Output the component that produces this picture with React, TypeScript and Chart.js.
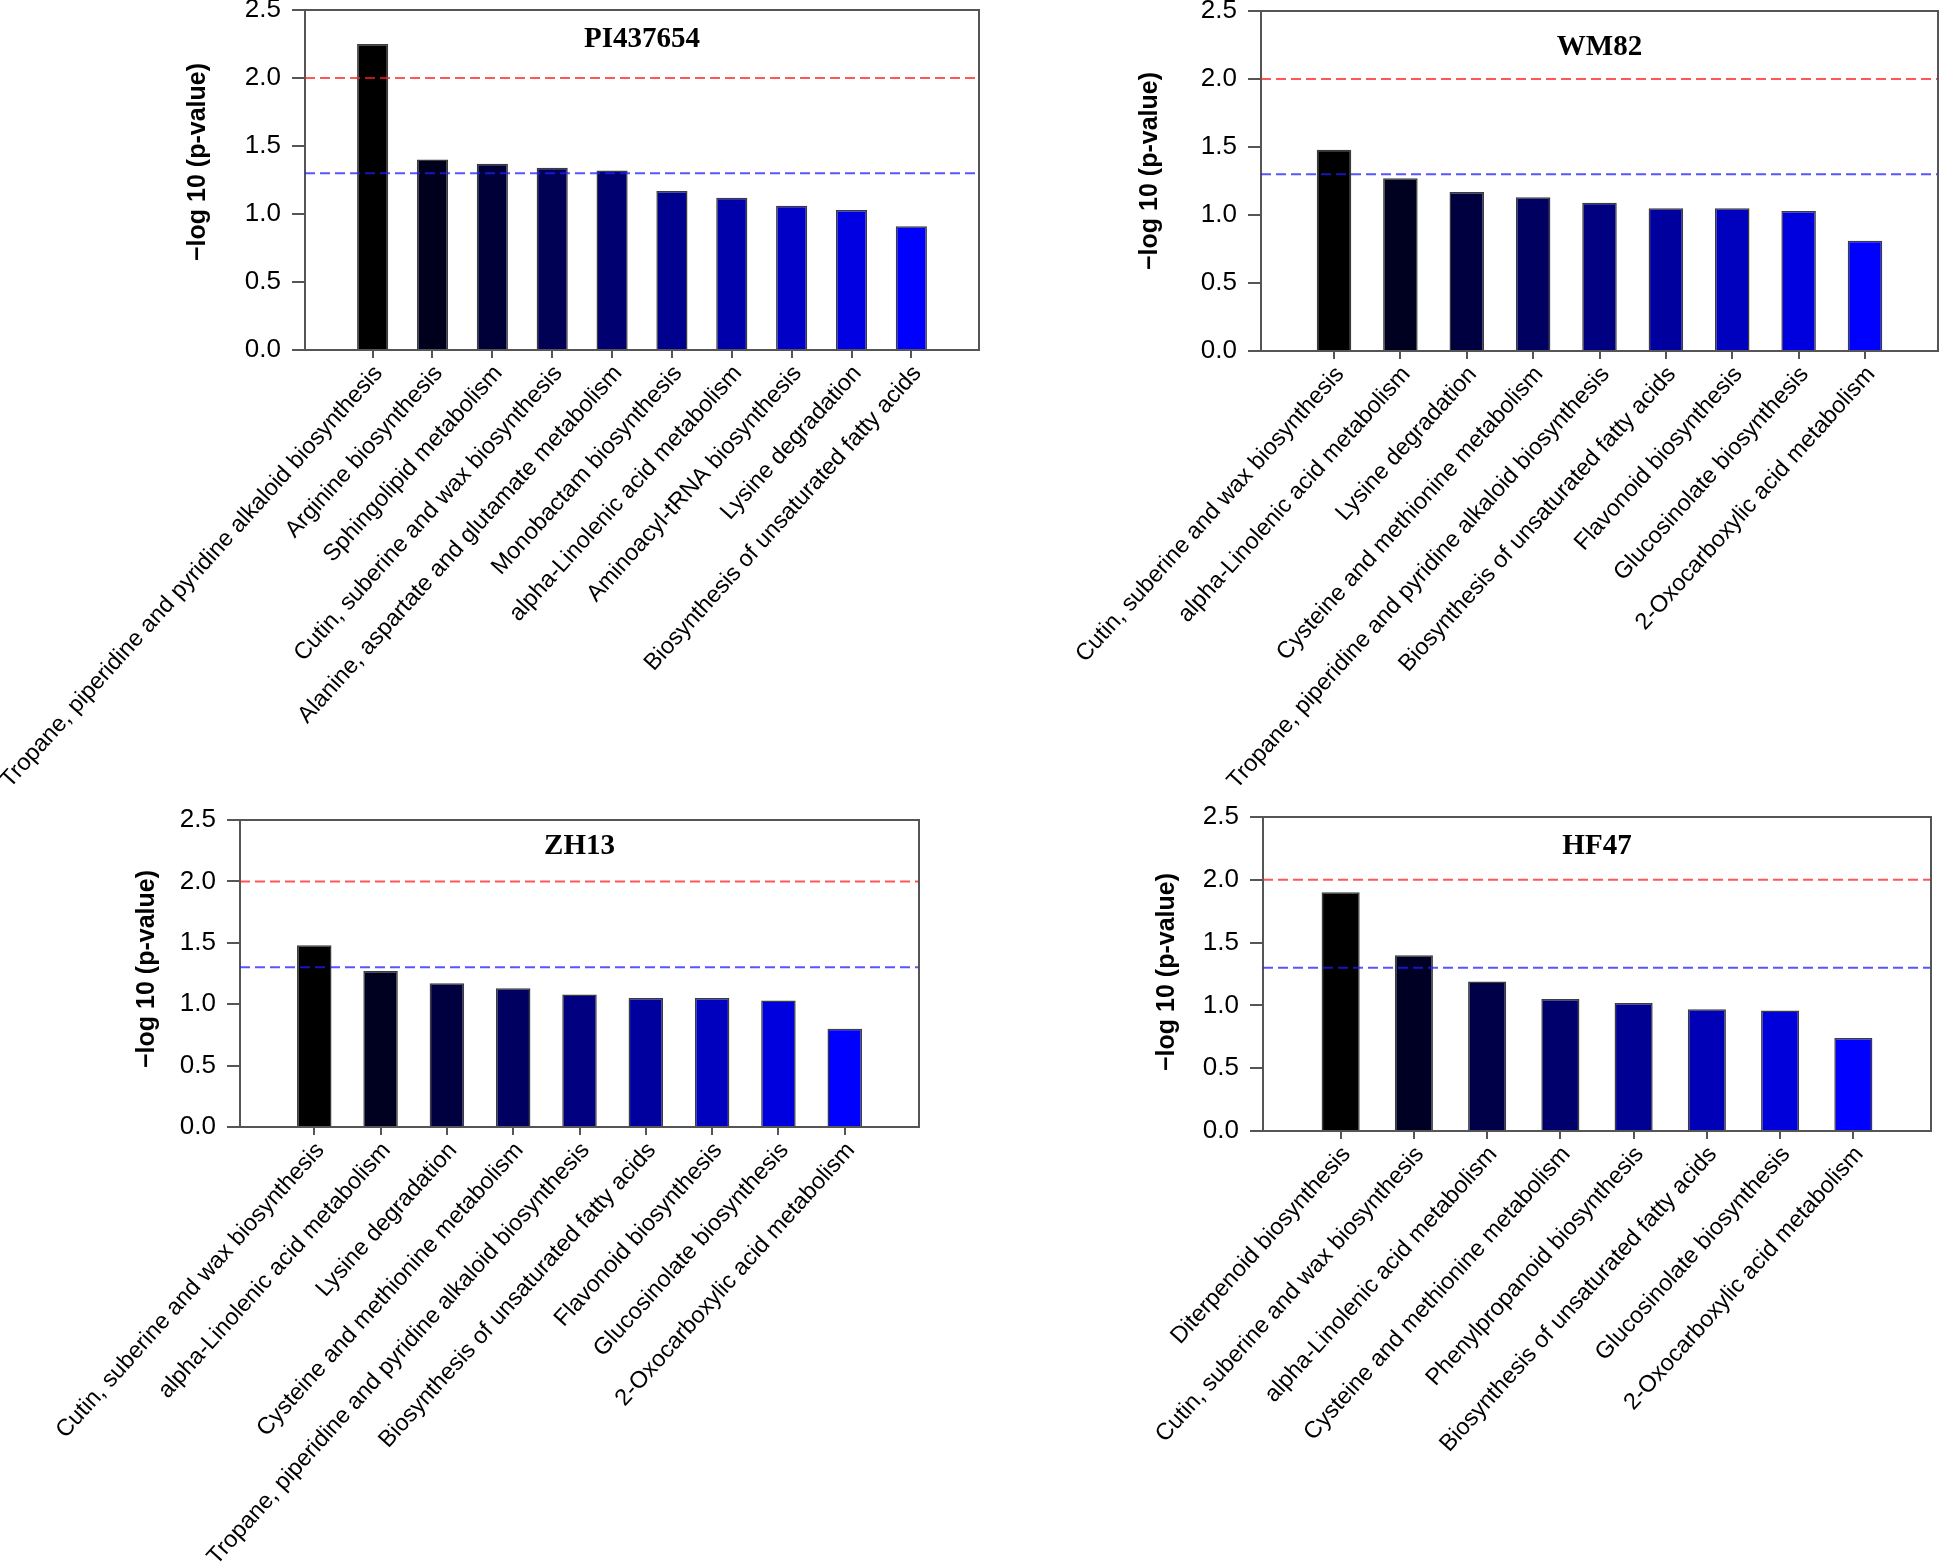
import React, { useEffect, useRef } from 'react';
import { Chart, registerables } from 'chart.js';

Chart.register(...registerables);

// ---------- data ----------
const redThreshold = 2.0;
const blueThreshold = 1.3;
const yMin = 0;
const yMax = 2.5;
const yStep = 0.5;
const yAxisTitle = '\u2212log 10 (p-value)';

const piTitle = 'PI437654';
const piLabels = [
  'Tropane, piperidine and pyridine alkaloid biosynthesis',
  'Arginine biosynthesis',
  'Sphingolipid metabolism',
  'Cutin, suberine and wax biosynthesis',
  'Alanine, aspartate and glutamate metabolism',
  'Monobactam biosynthesis',
  'alpha-Linolenic acid metabolism',
  'Aminoacyl-tRNA biosynthesis',
  'Lysine degradation',
  'Biosynthesis of unsaturated fatty acids',
];
const piValues = [2.25, 1.4, 1.37, 1.34, 1.32, 1.17, 1.12, 1.06, 1.03, 0.91];

const wmTitle = 'WM82';
const wmLabels = [
  'Cutin, suberine and wax biosynthesis',
  'alpha-Linolenic acid metabolism',
  'Lysine degradation',
  'Cysteine and methionine metabolism',
  'Tropane, piperidine and pyridine alkaloid biosynthesis',
  'Biosynthesis of unsaturated fatty acids',
  'Flavonoid biosynthesis',
  'Glucosinolate biosynthesis',
  '2-Oxocarboxylic acid metabolism',
];
const wmValues = [1.48, 1.27, 1.17, 1.13, 1.09, 1.05, 1.05, 1.03, 0.81];

const zhTitle = 'ZH13';
const zhLabels = [
  'Cutin, suberine and wax biosynthesis',
  'alpha-Linolenic acid metabolism',
  'Lysine degradation',
  'Cysteine and methionine metabolism',
  'Tropane, piperidine and pyridine alkaloid biosynthesis',
  'Biosynthesis of unsaturated fatty acids',
  'Flavonoid biosynthesis',
  'Glucosinolate biosynthesis',
  '2-Oxocarboxylic acid metabolism',
];
const zhValues = [1.48, 1.27, 1.17, 1.13, 1.08, 1.05, 1.05, 1.03, 0.8];

const hfTitle = 'HF47';
const hfLabels = [
  'Diterpenoid biosynthesis',
  'Cutin, suberine and wax biosynthesis',
  'alpha-Linolenic acid metabolism',
  'Cysteine and methionine metabolism',
  'Phenylpropanoid biosynthesis',
  'Biosynthesis of unsaturated fatty acids',
  'Glucosinolate biosynthesis',
  '2-Oxocarboxylic acid metabolism',
];
const hfValues = [1.9, 1.4, 1.19, 1.05, 1.02, 0.97, 0.96, 0.74];

// ---------- styles ----------
const colors10 = ['#000000', '#00001c', '#000038', '#000055', '#000071', '#00008e', '#0000aa', '#0000c6', '#0000e3', '#0000ff'];
const colors9 = ['#000000', '#000020', '#000040', '#000060', '#000080', '#00009f', '#0000bf', '#0000df', '#0000ff'];
const colors8 = ['#000000', '#000024', '#000049', '#00006d', '#000092', '#0000b6', '#0000db', '#0000ff'];

const SANS = '"Liberation Sans", Arial, Helvetica, sans-serif';
const SERIF = '"Liberation Serif", "Times New Roman", Times, serif';
const AXIS_COLOR = '#555555';
const LABEL_ANGLE = 48;

type Layout = {
  canvasLeft: number; canvasTop: number; width: number; height: number;
  plotLeft: number; plotTop: number; plotRight: number; plotBottom: number;
  pad: number; titleY: number; yTitleX: number; yTitleY: number;
};
type Panel = { title: string; labels: string[]; values: number[]; colors: string[]; layout: Layout };

const panels: Panel[] = [
  {
    title: piTitle, labels: piLabels, values: piValues, colors: colors10,
    layout: { canvasLeft: 0, canvasTop: 0, width: 990, height: 790, plotLeft: 305, plotTop: 10, plotRight: 979, plotBottom: 350, pad: 1.13, titleY: 40, yTitleX: 198, yTitleY: 162 },
  },
  {
    title: wmTitle, labels: wmLabels, values: wmValues, colors: colors9,
    layout: { canvasLeft: 990, canvasTop: 0, width: 955, height: 790, plotLeft: 1261, plotTop: 11, plotRight: 1938, plotBottom: 351, pad: 1.1, titleY: 48, yTitleX: 1150, yTitleY: 171 },
  },
  {
    title: zhTitle, labels: zhLabels, values: zhValues, colors: colors9,
    layout: { canvasLeft: 0, canvasTop: 790, width: 990, height: 775, plotLeft: 240, plotTop: 820, plotRight: 919, plotBottom: 1127, pad: 1.12, titleY: 847, yTitleX: 147, yTitleY: 969 },
  },
  {
    title: hfTitle, labels: hfLabels, values: hfValues, colors: colors8,
    layout: { canvasLeft: 990, canvasTop: 790, width: 955, height: 775, plotLeft: 1263, plotTop: 817, plotRight: 1931, plotBottom: 1131, pad: 1.06, titleY: 847, yTitleX: 1167, yTitleY: 972 },
  },
];

const panelDecor = {
  id: 'panelDecor',
  afterDatasetsDraw(chart: any, _args: any, opts: any) {
    const { ctx, chartArea: a, scales } = chart;
    const y = scales.y;
    ctx.save();
    ctx.lineWidth = 2;
    ctx.setLineDash([10, 5]);
    for (const ln of opts.lines || []) {
      const py = y.getPixelForValue(ln.value);
      ctx.strokeStyle = ln.color;
      ctx.beginPath();
      ctx.moveTo(a.left, py);
      ctx.lineTo(a.right, py);
      ctx.stroke();
    }
    ctx.setLineDash([]);
    ctx.strokeStyle = AXIS_COLOR;
    ctx.lineWidth = 2;
    ctx.beginPath();
    ctx.moveTo(a.left, a.top);
    ctx.lineTo(a.right, a.top);
    ctx.lineTo(a.right, a.bottom);
    ctx.stroke();
    // panel title
    ctx.fillStyle = '#000';
    ctx.font = `bold 29px ${SERIF}`;
    ctx.textAlign = 'center';
    ctx.textBaseline = 'middle';
    ctx.fillText(opts.title, (a.left + a.right) / 2, opts.titleY);
    // y axis title
    ctx.translate(opts.yTitleX, opts.yTitleY);
    ctx.rotate(-Math.PI / 2);
    ctx.font = `bold 25px ${SANS}`;
    ctx.fillText(opts.yTitle, 0, 0);
    ctx.restore();
  },
};

function makeChart(canvas: HTMLCanvasElement, panel: Panel) {
  const L = panel.layout;
  const n = panel.labels.length;
  const yAxisW = L.plotLeft - L.canvasLeft;
  const padTop = L.plotTop - L.canvasTop;
  const padRight = L.canvasLeft + L.width - L.plotRight;
  const xAxisH = L.canvasTop + L.height - L.plotBottom;

  return new Chart(canvas, {
    type: 'bar',
    data: {
      datasets: [
        {
          data: panel.values.map((v, i) => ({ x: i, y: v })),
          backgroundColor: panel.colors,
          borderColor: '#3c3c3c',
          borderWidth: 1.5,
          barPercentage: 0.52,
          categoryPercentage: 1,
        } as any,
      ],
    },
    options: {
      responsive: false,
      animation: false,
      devicePixelRatio: 1,
      layout: { padding: { left: 0, top: padTop, right: padRight, bottom: 0 } },
      plugins: {
        legend: { display: false },
        tooltip: { enabled: false },
        panelDecor: {
          title: panel.title,
          titleY: L.titleY - L.canvasTop,
          yTitle: yAxisTitle,
          yTitleX: L.yTitleX - L.canvasLeft,
          yTitleY: L.yTitleY - L.canvasTop,
          lines: [
            { value: redThreshold, color: 'rgba(255, 30, 30, 0.75)' },
            { value: blueThreshold, color: 'rgba(30, 30, 255, 0.75)' },
          ],
        },
      } as any,
      scales: {
        x: {
          type: 'linear',
          min: -L.pad,
          max: n - 1 + L.pad,
          offset: false,
          afterBuildTicks: (axis: any) => {
            axis.ticks = panel.labels.map((_, i) => ({ value: i }));
          },
          afterFit: (axis: any) => {
            axis.height = xAxisH;
            axis.paddingLeft = 0;
            axis.paddingRight = 0;
          },
          grid: { display: true, offset: false, drawOnChartArea: false, drawTicks: true, tickLength: 8, color: AXIS_COLOR, lineWidth: 2 },
          border: { display: true, color: AXIS_COLOR, width: 2 },
          ticks: {
            autoSkip: false,
            minRotation: LABEL_ANGLE,
            maxRotation: LABEL_ANGLE,
            padding: 2,
            labelOffset: 6,
            color: '#000',
            font: { family: SANS, size: 23.5 },
            callback: (v: any) => panel.labels[Math.round(Number(v))] ?? '',
          },
        },
        y: {
          min: yMin,
          max: yMax,
          afterFit: (axis: any) => {
            axis.width = yAxisW;
            axis.paddingTop = 0;
            axis.paddingBottom = 0;
          },
          grid: { display: true, drawOnChartArea: false, drawTicks: true, tickLength: 13, color: AXIS_COLOR, lineWidth: 2 },
          border: { display: true, color: AXIS_COLOR, width: 2 },
          ticks: {
            stepSize: yStep,
            padding: 11,
            color: '#000',
            font: { family: SANS, size: 26 },
            callback: (v: any) => Number(v).toFixed(1),
          },
          title: { display: false },
        },
      } as any,
    },
    plugins: [panelDecor],
  });
}

export default function App() {
  const refs = useRef<(HTMLCanvasElement | null)[]>([]);

  useEffect(() => {
    const charts = panels.map((p, i) => makeChart(refs.current[i] as HTMLCanvasElement, p));
    return () => charts.forEach((c) => c.destroy());
  }, []);

  return (
    <div style={{ position: 'absolute', left: 0, top: 0, width: 1945, height: 1565, background: '#fff', overflow: 'hidden' }}>
      {panels.map((p, i) => (
        <canvas
          key={p.title}
          ref={(el) => { refs.current[i] = el; }}
          width={p.layout.width}
          height={p.layout.height}
          style={{ position: 'absolute', left: p.layout.canvasLeft, top: p.layout.canvasTop, width: p.layout.width, height: p.layout.height }}
        />
      ))}
    </div>
  );
}
